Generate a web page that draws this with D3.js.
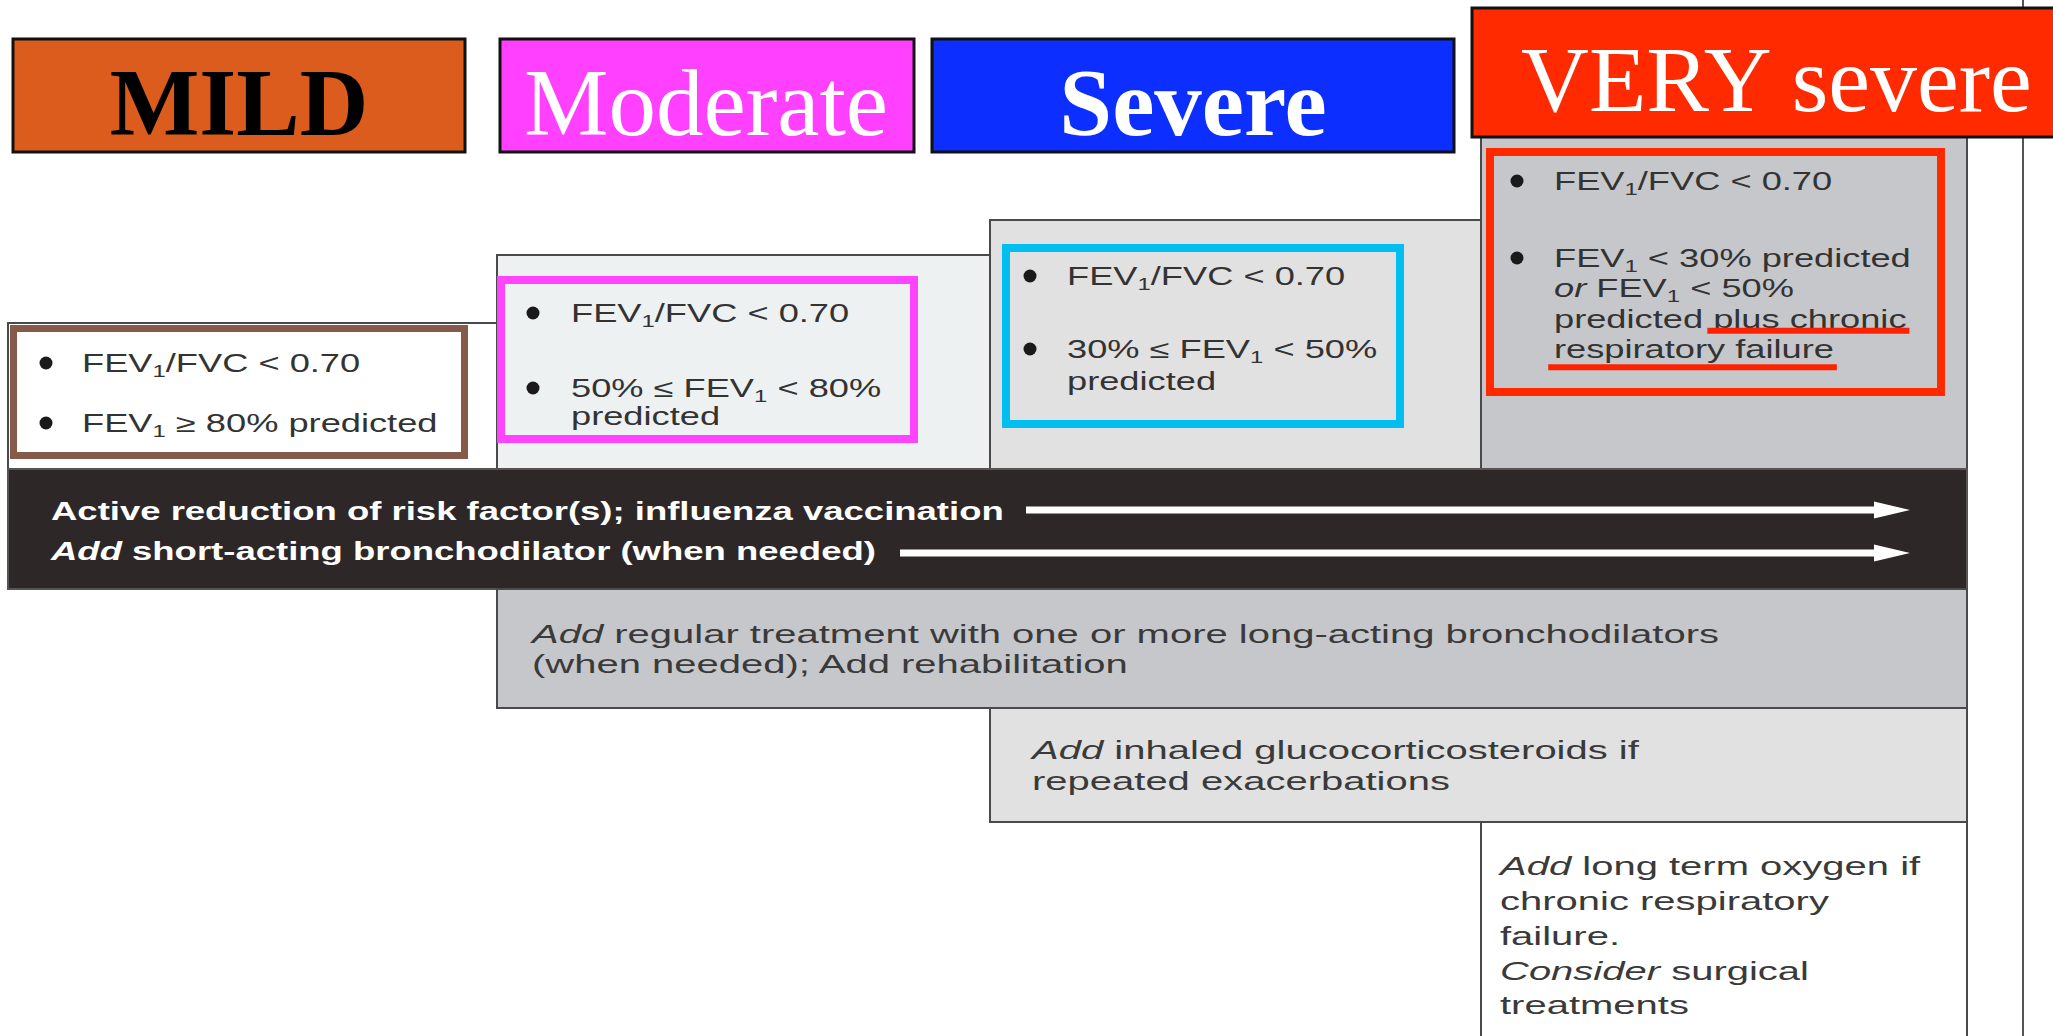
<!DOCTYPE html>
<html>
<head>
<meta charset="utf-8">
<script src="https://cdn.jsdelivr.net/npm/d3@7"></script>
<style>
  html, body { margin: 0; padding: 0; background: #ffffff; overflow: hidden; }
  svg { display: block; }
</style>
</head>
<body>
<svg id="chart" width="2053" height="1036"></svg>
<script>
// ---------------- DATA ----------------
const stages = ["MILD", "Moderate", "Severe", "VERY severe"];

// Diagnostic criteria per stage (one inner array per bullet, one string per line)
// markup: _{x} = subscript, *x* = italic, ~x~ = underlined
const criteriaMild = [["FEV_{1}/FVC < 0.70"], ["FEV_{1} ≥ 80% predicted"]];
const criteriaModerate = [["FEV_{1}/FVC < 0.70"], ["50% ≤ FEV_{1} < 80%", "predicted"]];
const criteriaSevere = [["FEV_{1}/FVC < 0.70"], ["30% ≤ FEV_{1} < 50%", "predicted"]];
const criteriaVerySevere = [["FEV_{1}/FVC < 0.70"],
  ["FEV_{1} < 30% predicted", "*or* FEV_{1} < 50%", "predicted ~plus chronic~", "~respiratory failure~"]];
const criteria = [criteriaMild, criteriaModerate, criteriaSevere, criteriaVerySevere];

// Treatments: stage at which each step starts, and its text lines
const treatmentStart = ["MILD", "Moderate", "Severe", "VERY severe"];
const treatmentLines = [
  ["Active reduction of risk factor(s); influenza vaccination", "*Add* short-acting bronchodilator (when needed)"],
  ["*Add* regular treatment with one or more long-acting bronchodilators", "(when needed); Add rehabilitation"],
  ["*Add* inhaled glucocorticosteroids if", "repeated exacerbations"],
  ["*Add* long term oxygen if", "chronic respiratory", "failure.", "*Consider* surgical", "treatments"]
];
// treatments that carry an arrow across all stages (first step)
const arrowRows = [0];

// ---------------- STYLE / LAYOUT ----------------
const W = 2053, H = 1036;
const svg = d3.select("#chart");
svg.append("rect").attr("width", W).attr("height", H).attr("fill", "#ffffff");

const colX = d3.scaleOrdinal().domain(stages).range([8, 497, 990, 1481]);
const rightEdge = 1967;
const colTop = d3.scaleOrdinal().domain(stages).range([323, 255, 220, 137]);
const colFill = d3.scaleOrdinal().domain(stages).range(["#ffffff", "#eef1f2", "#e1e1e1", "#c6c7cb"]);
const borderCol = "#4a4a4a";

const headerFill = ["#dc5c1e", "#ff40ff", "#0c2eff", "#ff2a00"];
const headerTextFill = ["#000000", "#ffffff", "#ffffff", "#ffffff"];
const headerBold = [true, false, true, false];
const headerBox = [
  {x: 13, y: 39, w: 452, h: 113, tx: 239, ty: 135, anchor: "middle", fs: 95},
  {x: 500, y: 39, w: 414, h: 113, tx: 706, ty: 135, anchor: "middle", fs: 95},
  {x: 932, y: 39, w: 522, h: 113, tx: 1193, ty: 135, anchor: "middle", fs: 95},
  {x: 1472, y: 8, w: 600, h: 129, tx: 1521, ty: 111, anchor: "start", fs: 94}
];

const boxStroke = ["#865a4b", "#ff44ff", "#00bff0", "#ff2a00"];
const boxLayout = [
  {x: 13.5, y: 328.5, w: 451, h: 127, sw: 7, bx: 46, tx: 82, starts: [372, 432]},
  {x: 501, y: 280, w: 413, h: 159, sw: 8, bx: 533, tx: 571, starts: [322, 397], gap: 28},
  {x: 1006, y: 248, w: 394, h: 176, sw: 8, bx: 1030, tx: 1067, starts: [285, 358], gap: 32},
  {x: 1490, y: 152, w: 451, h: 240, sw: 8, bx: 1517, tx: 1554, starts: [190, 267], gap: 30.4}
];
const underlineDy = [3, 9];

const rowTop = [469, 589, 708, 822, 1040];
const rowFill = ["#2d2728", "#c6c7cb", "#e1e1e1", "#ffffff"];
const rowText = [
  {dx: 43, base: [520, 560], fill: "#ffffff", bold: true, sx: 1.46},
  {dx: 35, base: [643, 673], fill: "#3a3a3a", bold: false, sx: 1.6},
  {dx: 42, base: [759, 790], fill: "#3a3a3a", bold: false, sx: 1.6},
  {dx: 19, base: [875, 910, 945, 980, 1014], fill: "#3a3a3a", bold: false, sx: 1.6}
];
const arrowLayout = [{x1: 1026, y: 510}, {x1: 900, y: 553}];
const arrowEnd = 1910;

const sansFont = "'Liberation Sans', Arial, Helvetica, sans-serif";
const serifFont = "'Liberation Serif', 'Times New Roman', serif";

// ---------- rich text helper ----------
function parse(str) {
  const parts = str.split(/(\*[^*]+\*|_\{[^}]+\}|~[^~]+~)/).filter(s => s.length);
  return parts.map(p => {
    if (p.startsWith("*")) return {text: p.slice(1, -1), italic: true};
    if (p.startsWith("_{")) return {text: p.slice(2, -1), sub: true};
    if (p.startsWith("~")) return {text: p.slice(1, -1), underline: true};
    return {text: p};
  });
}
const underlines = [];
function richText(parent, str, x, y, opts) {
  const fs = opts.fs || 25;
  const g = parent.append("g").attr("transform", `translate(${x},${y}) scale(${opts.sx},1)`);
  const t = g.append("text")
    .attr("font-family", sansFont)
    .attr("font-size", fs)
    .attr("font-weight", opts.bold ? "bold" : "normal")
    .attr("fill", opts.fill);
  let idx = 0, shifted = false;
  const ul = [];
  parse(str).forEach(s => {
    const ts = t.append("tspan").text(s.text);
    if (s.italic) ts.attr("font-style", "italic");
    if (s.sub) { ts.attr("font-size", fs * 0.66).attr("dy", 5); shifted = true; }
    else if (shifted) { ts.attr("dy", -5); shifted = false; }
    if (s.underline) ul.push([idx, idx + s.text.length - 1]);
    idx += s.text.length;
  });
  ul.forEach(([a, b]) => {
    const n = t.node();
    const x0 = n.getStartPositionOfChar(a).x, x1 = n.getEndPositionOfChar(b).x;
    const k = underlines.length;
    const dy = underlineDy[k] !== undefined ? underlineDy[k] : 5;
    underlines.push(1);
    g.append("line").attr("x1", x0 - 4).attr("x2", x1 + 2).attr("y1", dy).attr("y2", dy)
      .attr("stroke", "#ff2200").attr("stroke-width", 6);
  });
  return g;
}

// ---------- vertical rule at right ----------
svg.append("line").attr("x1", 2023).attr("x2", 2023).attr("y1", 0).attr("y2", H)
  .attr("stroke", "#555").attr("stroke-width", 2);

// ---------- stage columns (staircase) ----------
const colG = svg.append("g");
stages.forEach((s, i) => {
  const x0 = colX(s);
  const x1 = i < stages.length - 1 ? colX(stages[i + 1]) : rightEdge;
  colG.append("rect")
    .attr("x", x0).attr("y", colTop(s))
    .attr("width", x1 - x0).attr("height", rowTop[0] - colTop(s))
    .attr("fill", colFill(s)).attr("stroke", borderCol).attr("stroke-width", 2);
});

// ---------- treatment rows ----------
const rowG = svg.append("g");
treatmentStart.forEach((s, i) => {
  const x0 = colX(s);
  rowG.append("rect")
    .attr("x", x0).attr("y", rowTop[i])
    .attr("width", rightEdge - x0).attr("height", rowTop[i + 1] - rowTop[i])
    .attr("fill", rowFill[i]).attr("stroke", i === 0 ? "#555" : borderCol).attr("stroke-width", 2);
});
treatmentLines.forEach((lines, i) => {
  const L = rowText[i];
  lines.forEach((ln, j) => {
    richText(rowG, ln, colX(treatmentStart[i]) + L.dx, L.base[j], {fill: L.fill, bold: L.bold, sx: L.sx, fs: 25});
  });
});
// arrows in first step
arrowRows.forEach(r => {
  treatmentLines[r].forEach((ln, j) => {
    const a = arrowLayout[j];
    rowG.append("line").attr("x1", a.x1).attr("x2", arrowEnd - 30).attr("y1", a.y).attr("y2", a.y)
      .attr("stroke", "#ffffff").attr("stroke-width", 7);
    rowG.append("path")
      .attr("d", d3.line()([[arrowEnd - 36, a.y - 8.5], [arrowEnd, a.y], [arrowEnd - 36, a.y + 8.5]]) + "Z")
      .attr("fill", "#ffffff");
  });
});

// ---------- criteria boxes ----------
const critG = svg.append("g");
criteria.forEach((bullets, i) => {
  const B = boxLayout[i];
  critG.append("rect").attr("x", B.x).attr("y", B.y).attr("width", B.w).attr("height", B.h)
    .attr("fill", "none").attr("stroke", boxStroke[i]).attr("stroke-width", B.sw);
  bullets.forEach((lines, j) => {
    const y0 = B.starts[j];
    critG.append("circle").attr("cx", B.bx).attr("cy", y0 - 9).attr("r", 6.5).attr("fill", "#1a1a1a");
    lines.forEach((ln, k) => {
      richText(critG, ln, B.tx, y0 + k * (B.gap || 30), {fill: "#333333", bold: false, sx: 1.45, fs: 25});
    });
  });
});

// ---------- stage headers ----------
const headG = svg.append("g");
stages.forEach((s, i) => {
  const h = headerBox[i];
  headG.append("rect").attr("x", h.x).attr("y", h.y).attr("width", h.w).attr("height", h.h)
    .attr("fill", headerFill[i]).attr("stroke", "#111").attr("stroke-width", 3);
  headG.append("text").attr("x", h.tx).attr("y", h.ty)
    .attr("text-anchor", h.anchor)
    .attr("font-family", serifFont).attr("font-size", h.fs)
    .attr("font-weight", headerBold[i] ? "bold" : "normal")
    .attr("fill", headerTextFill[i]).text(s);
});
</script>
</body>
</html>
